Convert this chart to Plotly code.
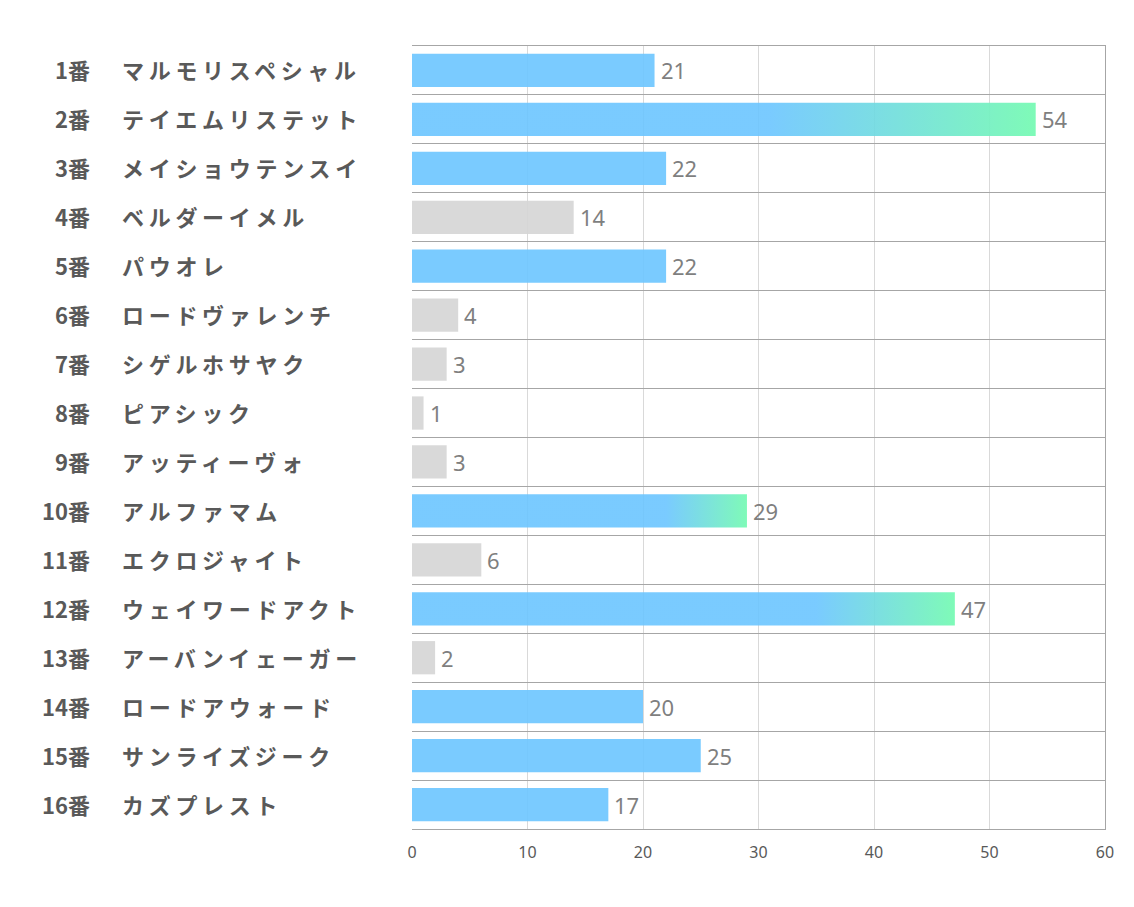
import plotly.graph_objects as go

numbers = ["1番", "2番", "3番", "4番", "5番", "6番", "7番", "8番",
           "9番", "10番", "11番", "12番", "13番", "14番", "15番", "16番"]
names = ["マルモリスペシャル", "テイエムリステット", "メイショウテンスイ", "ベルダーイメル",
         "パウオレ", "ロードヴァレンチ", "シゲルホサヤク", "ピアシック",
         "アッティーヴォ", "アルファマム", "エクロジャイト", "ウェイワードアクト",
         "アーバンイェーガー", "ロードアウォード", "サンライズジーク", "カズプレスト"]
values = [21, 54, 22, 14, 22, 4, 3, 1, 3, 29, 6, 47, 2, 20, 25, 17]
highlight = [True, True, True, False, True, False, False, False,
             False, True, False, True, False, True, True, True]
x_ticks = [0, 10, 20, 30, 40, 50, 60]

# style config
BLUE = "rgba(107,197,255,0.9)"
GRAY = "rgba(213,213,213,0.9)"
GREEN = "rgba(120,250,180,0.95)"
BAR_H = 0.68
gradient_start = {1: 31.0, 9: 22.0, 11: 35.0}

n = len(values)
ypos = list(range(n))

bar_colors = []
for i in range(n):
    if i in gradient_start:
        bar_colors.append("rgba(0,0,0,0)")
    else:
        bar_colors.append(BLUE if highlight[i] else GRAY)

fig = go.Figure()
fig.add_trace(go.Bar(
    x=values, y=ypos, orientation="h", width=BAR_H,
    marker=dict(color=bar_colors, line=dict(width=0)),
    hoverinfo="skip", showlegend=False,
))

for i, s in gradient_start.items():
    v = values[i]
    h = BAR_H / 2
    fig.add_trace(go.Scatter(
        x=[0, v, v, 0, 0], y=[i - h, i - h, i + h, i + h, i - h],
        mode="lines", fill="toself", line=dict(width=0),
        fillgradient=dict(type="horizontal", start=s, stop=v,
                          colorscale=[[0, BLUE], [1, GREEN]]),
        hoverinfo="skip", showlegend=False,
    ))

annotations = []
for i in range(n):
    annotations.append(dict(
        x=0, xref="paper", y=i, yref="y", xanchor="right", yanchor="middle",
        xshift=-320, yshift=1, showarrow=False,
        text="<b>" + numbers[i] + "</b>",
        font=dict(family="Noto Sans CJK JP", size=22, color="#595959"),
    ))
    annotations.append(dict(
        x=0, xref="paper", y=i, yref="y", xanchor="left", yanchor="middle",
        xshift=-292, yshift=1, showarrow=False,
        text="<b><span style='letter-spacing:4.7px'>" + names[i] + "</span></b>",
        font=dict(family="Noto Sans CJK JP", size=22, color="#595959"),
    ))
    annotations.append(dict(
        x=values[i], xref="x", y=i, yref="y", xanchor="left", yanchor="middle",
        xshift=4, yshift=0, showarrow=False,
        text=str(values[i]),
        font=dict(family="Noto Sans", size=22, color="#7f7f7f"),
    ))

fig.update_layout(
    width=1134, height=907,
    margin=dict(l=412, r=29, t=46, b=78),
    paper_bgcolor="white", plot_bgcolor="white",
    annotations=annotations,
    bargap=0.3,
    xaxis=dict(
        range=[0, 60], tickvals=x_ticks, ticktext=[str(t) for t in x_ticks],
        showgrid=True, gridcolor="#d9d9d9", gridwidth=1, zeroline=False,
        showline=True, mirror=True, linecolor="#a6a6a6", linewidth=1,
        ticks="outside", ticklen=9, tickcolor="rgba(0,0,0,0)",
        tickfont=dict(family="Noto Sans", size=16, color="#595959"),
        fixedrange=True,
    ),
    yaxis=dict(
        range=[n - 0.5, -0.5], tickvals=[k + 0.5 for k in range(n - 1)],
        showticklabels=False, ticks="", showgrid=True, gridcolor="#a6a6a6",
        gridwidth=1, zeroline=False, side="right",
        showline=True, linecolor="#a6a6a6", linewidth=1, fixedrange=True,
    ),
)

fig.write_html("out.html")
